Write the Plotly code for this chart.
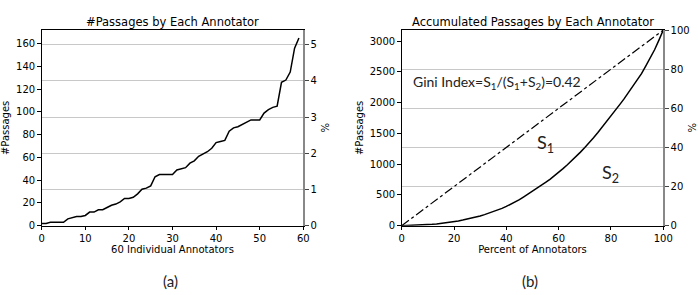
import numpy as np
import plotly.graph_objects as go

# passages per annotator (sorted)
annotator_idx = list(range(60))
passages = [2, 2, 3, 3, 3, 3, 6, 7, 8, 8,
            9, 12, 12, 14, 14, 16, 18, 19, 21, 24,
            24, 25, 28, 32, 33, 35, 43, 45, 45, 45,
            45, 49, 50, 51, 55, 57, 61, 63, 65, 68,
            73, 74, 75, 83, 86, 87, 89, 91, 93, 93,
            93, 99, 102, 104, 105, 126, 128, 135, 156, 165]
left_ticks = [0, 20, 40, 60, 80, 100, 120, 140, 160]
pct_ticks_left = [0, 1, 2, 3, 4, 5]
pct_ticks_right = [0, 20, 40, 60, 80, 100]
right_yticks = [0, 500, 1000, 1500, 2000, 2500, 3000]

total = sum(passages)
cum = np.concatenate([[0], np.cumsum(passages)])
pct_annot = np.arange(len(cum)) / len(passages) * 100
pct_share = [p / total * 100 for p in passages]

left_top = 172

W, H = 698, 295
def px(x):
    return x / W
def py(y):
    return 1 - y / H

xl = [px(41.7), px(303.3)]
xr = [px(401.7), px(663.3)]
yd = [py(225.7), py(30)]

fig = go.Figure()
fig.add_trace(go.Scatter(x=annotator_idx, y=passages, mode="lines",
                         line=dict(color="black", width=1.5),
                         xaxis="x", yaxis="y", showlegend=False))
fig.add_trace(go.Scatter(x=annotator_idx, y=pct_share, mode="lines",
                         line=dict(color="rgba(0,0,0,0)", width=0),
                         xaxis="x", yaxis="y2", showlegend=False, hoverinfo="skip"))
fig.add_trace(go.Scatter(x=[0, 100], y=[0, total], mode="lines",
                         line=dict(color="black", width=1.2, dash="dashdot"),
                         xaxis="x2", yaxis="y3", showlegend=False))
fig.add_trace(go.Scatter(x=pct_annot, y=cum, mode="lines",
                         line=dict(color="black", width=1.5),
                         xaxis="x2", yaxis="y3", showlegend=False))
fig.add_trace(go.Scatter(x=pct_annot, y=cum / total * 100, mode="lines",
                         line=dict(color="rgba(0,0,0,0)", width=0),
                         xaxis="x2", yaxis="y4", showlegend=False, hoverinfo="skip"))

tickfont = dict(family="DejaVu Sans", size=10, color="black")
labfont = dict(family="DejaVu Sans", size=10, color="black")

common_x = dict(showline=True, linecolor="black", linewidth=1, mirror=True,
                ticks="outside", ticklen=3.5, tickcolor="black", tickwidth=1,
                showgrid=False, zeroline=False, tickfont=tickfont, automargin=False)
common_y = dict(showline=True, linecolor="black", linewidth=1,
                ticks="outside", ticklen=3.5, tickcolor="black", tickwidth=1,
                showgrid=False, zeroline=False, tickfont=tickfont, automargin=False)
common_y2 = dict(showline=True, linecolor="#888888", linewidth=1.5,
                 ticks="outside", ticklen=3.5, tickcolor="#444444", tickwidth=1,
                 showgrid=True, gridcolor="#c8c8c8", gridwidth=1,
                 zeroline=False, tickfont=tickfont, side="right", automargin=False)

fig.update_layout(
    width=W, height=H,
    margin=dict(l=0, r=0, t=0, b=0),
    paper_bgcolor="white", plot_bgcolor="white",
    xaxis=dict(domain=xl, anchor="y", range=[0, 60], tickvals=list(range(0, 61, 10)),
               title=dict(text="60 Individual Annotators", font=labfont, standoff=2),
               **common_x),
    yaxis=dict(domain=yd, anchor="x", range=[0, left_top], tickvals=left_ticks,
               title=dict(text="#Passages", font=labfont, standoff=4), **common_y),
    yaxis2=dict(anchor="x", overlaying="y", range=[0, left_top / total * 100],
                tickvals=pct_ticks_left,
                title=dict(text="%", font=labfont, standoff=6), **common_y2),
    xaxis2=dict(domain=xr, anchor="y3", range=[0, 100], tickvals=[0, 20, 40, 60, 80, 100],
                title=dict(text="Percent of Annotators", font=labfont, standoff=2),
                **common_x),
    yaxis3=dict(domain=yd, anchor="x2", range=[0, total], tickvals=right_yticks,
                title=dict(text="#Passages", font=labfont, standoff=4), **common_y),
    yaxis4=dict(anchor="x2", overlaying="y3", range=[0, 100], tickvals=pct_ticks_right,
                title=dict(text="%", font=labfont, standoff=6), **common_y2),
)

titlefont = dict(family="DejaVu Sans", size=11.5, color="black")
gfont = dict(family="Lato", size=14, color="#222222")
ann = [
    dict(x=px(172.5), y=py(22), text="#Passages by Each Annotator", font=titlefont),
    dict(x=px(532.7), y=py(22), text="Accumulated Passages by Each Annotator", font=titlefont),
    dict(x=px(170), y=py(281), text="(a)", font=dict(family="Lato", size=15, color="#222222")),
    dict(x=px(530), y=py(281), text="(b)", font=dict(family="Lato", size=15, color="#222222")),
    dict(x=px(411), y=py(82), xanchor="left",
         text="Gini Index=S<sub>1</sub>/(S<sub>1</sub>+S<sub>2</sub>)=0.42", font=gfont),
    dict(x=px(545), y=py(143), text="S<sub>1</sub>", font=dict(family="Lato", size=18, color="#222222")),
    dict(x=px(610), y=py(173), text="S<sub>2</sub>", font=dict(family="Lato", size=18, color="#222222")),
]
for a in ann:
    a.setdefault("xanchor", "center")
    a.update(xref="paper", yref="paper", yanchor="middle", showarrow=False)
fig.update_layout(annotations=ann)

fig.write_html("out.html", config={"displayModeBar": False},
               post_script="document.body.style.margin='0';document.body.style.overflow='hidden';")
